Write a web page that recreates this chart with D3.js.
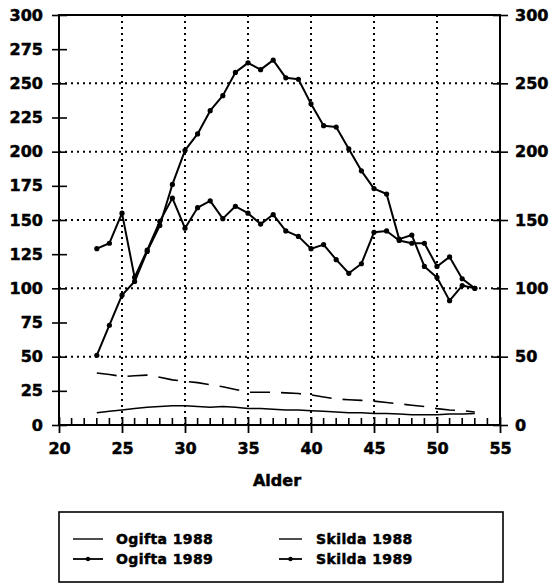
<!DOCTYPE html>
<html>
<head>
<meta charset="utf-8">
<script src="https://cdn.jsdelivr.net/npm/d3@7"></script>
<style>
  body { margin: 0; background: #fff; }
  text { font-family: 'DejaVu Sans', sans-serif; font-weight: bold; fill: #000; stroke: #000; stroke-width: 0.5px; }
</style>
</head>
<body>
<svg id="chart" width="553" height="584"></svg>
<script>
// Age (Alder) on x
const ages = [23, 24, 25, 26, 27, 28, 29, 30, 31, 32, 33, 34, 35, 36, 37, 38, 39, 40,
  41, 42, 43, 44, 45, 46, 47, 48, 49, 50, 51, 52, 53];

const ogifta1988 = [9, 10, 11, 12, 13, 13.5, 14, 14, 13.5, 13, 13.5, 13, 12, 12, 11.5, 11, 11,
  10.5, 10, 9.5, 9, 9, 8.5, 8.5, 8, 7.5, 7.5, 7.5, 8, 8, 8.5];
const skilda1988 = [38, 37, 35.5, 36, 36.5, 35, 33, 32, 31, 29.5, 28, 26, 24, 24, 24, 23.5, 23,
  22, 20.5, 19, 18.5, 18, 17.5, 16.5, 15.5, 14.5, 13.5, 12, 11, 10.5, 9.5];
const ogifta1989 = [51, 73, 95, 105, 127, 146, 176, 201, 213, 230, 241, 258, 265, 260, 267, 254,
  253, 235, 219, 218, 202, 186, 173, 169, 136, 139, 116, 108, 91, 102, 100];
const skilda1989 = [129, 133, 155, 108, 128, 149, 166, 144, 159, 164, 151, 160, 155, 147, 154,
  142, 138, 129, 132, 121, 111, 118, 141, 142, 135, 133, 133, 116, 123, 107, 100];

const xTicks = [20, 25, 30, 35, 40, 45, 50, 55];
const yTicksLeft = [0, 25, 50, 75, 100, 125, 150, 175, 200, 225, 250, 275, 300];
const yTicksRight = [0, 50, 100, 150, 200, 250, 300];
const xGrid = [25, 30, 35, 40, 45, 50];
const yGrid = [50, 100, 150, 200, 250];
const xMinor = [21, 22, 23, 24, 26, 27, 28, 29, 31, 32, 33, 34, 36, 37, 38, 39, 41, 42, 43, 44,
  46, 47, 48, 49, 51, 52, 53, 54];

const seriesList = [
  { name: 'Ogifta 1988', values: ogifta1988, dash: null, width: 1.5, marker: false },
  { name: 'Skilda 1988', values: skilda1988, dash: '20,11', width: 1.6, marker: false },
  { name: 'Ogifta 1989', values: ogifta1989, dash: null, width: 2, marker: true },
  { name: 'Skilda 1989', values: skilda1989, dash: null, width: 2, marker: true },
];

const svg = d3.select('#chart');
const plotLeft = 59, plotRight = 500, plotTop = 15, plotBottom = 425;

const x = d3.scaleLinear().domain([20, 55]).range([plotLeft, plotRight]);
const y = d3.scaleLinear().domain([0, 300]).range([plotBottom, plotTop]);

// dotted grid
const grid = svg.append('g')
    .attr('stroke', '#000')
    .attr('stroke-width', 2)
    .attr('stroke-dasharray', '2,4');

grid.selectAll('line.v')
  .data(xGrid)
  .join('line')
    .attr('class', 'v')
    .attr('x1', d => x(d)).attr('x2', d => x(d))
    .attr('y1', plotTop).attr('y2', plotBottom);

grid.selectAll('line.h')
  .data(yGrid)
  .join('line')
    .attr('class', 'h')
    .attr('x1', plotLeft).attr('x2', plotRight)
    .attr('y1', d => y(d)).attr('y2', d => y(d));

// frame
svg.append('rect')
    .attr('x', plotLeft).attr('y', plotTop)
    .attr('width', plotRight - plotLeft).attr('height', plotBottom - plotTop)
    .attr('fill', 'none')
    .attr('stroke', '#000')
    .attr('stroke-width', 2);

const styleText = g => g.selectAll('.tick text')
    .attr('font-size', 16).attr('font-family', 'DejaVu Sans').attr('font-weight', 'bold');

// left axis
svg.append('g')
    .attr('transform', `translate(${plotLeft},0)`)
    .call(d3.axisLeft(y).tickValues(yTicksLeft).tickSize(7).tickPadding(9))
    .call(g => g.select('.domain').remove())
    .call(g => g.selectAll('.tick line').attr('x2', -7).attr('x1', 8).attr('stroke-width', 1.6))
    .call(styleText);

// right axis
svg.append('g')
    .attr('transform', `translate(${plotRight},0)`)
    .call(d3.axisRight(y).tickValues(yTicksRight).tickSize(8).tickPadding(7))
    .call(g => g.select('.domain').remove())
    .call(g => g.selectAll('.tick line').attr('x1', -7).attr('stroke-width', 1.6))
    .call(styleText);

// bottom axis, major ticks cross the line
svg.append('g')
    .attr('transform', `translate(0,${plotBottom})`)
    .call(d3.axisBottom(x).tickValues(xTicks).tickSize(8).tickPadding(10))
    .call(g => g.select('.domain').remove())
    .call(g => g.selectAll('.tick line').attr('y1', -8).attr('stroke-width', 1.8))
    .call(styleText);

// minor ticks (one per year, pointing up)
svg.append('g')
    .attr('stroke', '#000')
    .attr('stroke-width', 1.6)
    .selectAll('line')
    .data(xMinor)
    .join('line')
    .attr('x1', d => x(d)).attr('x2', d => x(d))
    .attr('y1', plotBottom).attr('y2', plotBottom - 7);

svg.append('text')
    .attr('x', 277)
    .attr('y', 486)
    .attr('text-anchor', 'middle')
    .attr('font-size', 16)
    .text('Alder');

// series lines
const line = d3.line()
    .x((d, i) => x(ages[i]))
    .y(d => y(d));

const lines = svg.append('g').attr('fill', 'none').attr('stroke', '#000');

seriesList.forEach(s => {
  lines.append('path')
      .attr('d', line(s.values))
      .attr('stroke-width', s.width)
      .attr('stroke-dasharray', s.dash)
      .attr('stroke-linejoin', 'round');

  if (s.marker) {
    svg.append('g')
      .selectAll('circle')
      .data(s.values)
      .join('circle')
        .attr('cx', (d, i) => x(ages[i]))
        .attr('cy', d => y(d))
        .attr('r', 2.6)
        .attr('fill', '#000');
  }
});

// legend
const legend = svg.append('g');
legend.append('rect')
    .attr('x', 59).attr('y', 512)
    .attr('width', 444).attr('height', 70)
    .attr('fill', 'none')
    .attr('stroke', '#000')
    .attr('stroke-width', 1.6);

const legendPos = [
  { lx: 73, ly: 539 },
  { lx: 279, ly: 539 },
  { lx: 73, ly: 559 },
  { lx: 279, ly: 559 },
];

seriesList.forEach((s, i) => {
  const p = legendPos[i];
  const len = i % 2 === 0 ? 30 : 23;
  legend.append('line')
      .attr('x1', p.lx).attr('x2', p.lx + len)
      .attr('y1', p.ly).attr('y2', p.ly)
      .attr('stroke', '#000')
      .attr('stroke-width', s.width === 2 ? 1.8 : 1.4);
  if (s.marker) {
    legend.append('circle')
        .attr('cx', p.lx + len / 2).attr('cy', p.ly)
        .attr('r', 2.2).attr('fill', '#000');
  }
  legend.append('text')
      .attr('x', p.lx + (i % 2 === 0 ? 43 : 37))
      .attr('y', p.ly + 5)
      .attr('font-size', 14)
      .attr('letter-spacing', 0.4)
      .text(s.name);
});
</script>
</body>
</html>
